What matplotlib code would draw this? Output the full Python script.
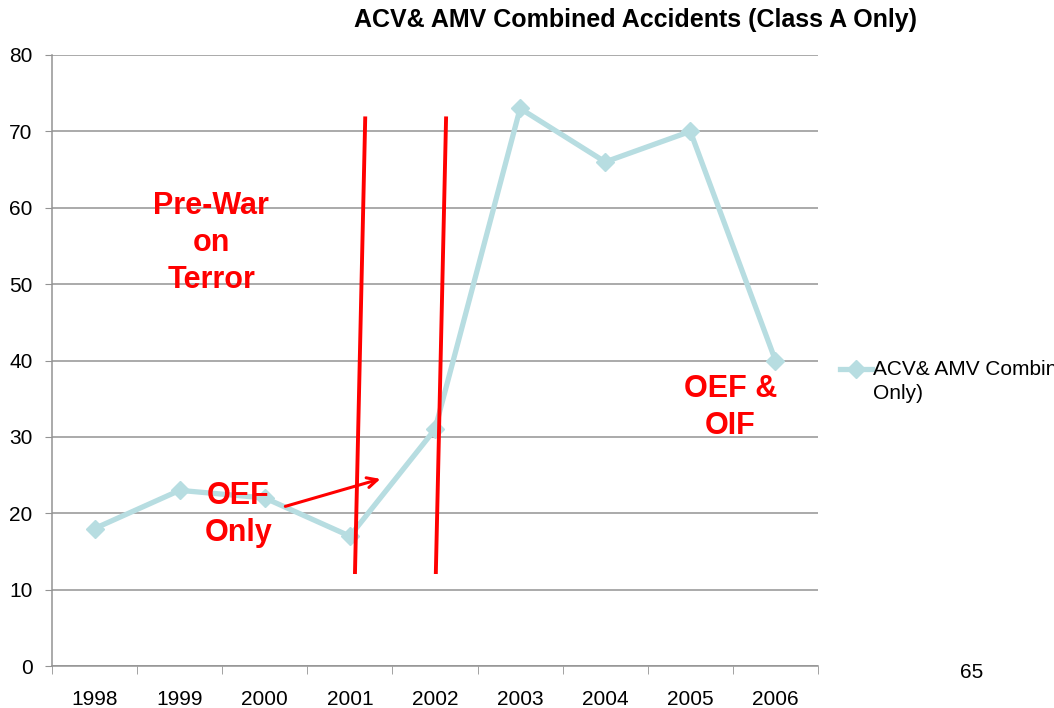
import numpy as np
import matplotlib.pyplot as plt
from matplotlib.legend_handler import HandlerLine2D

plt.rcParams['font.family'] = ['Liberation Sans', 'DejaVu Sans']

years = ['1998', '1999', '2000', '2001', '2002', '2003', '2004', '2005', '2006']
accidents = [18, 23, 22, 17, 31, 73, 66, 70, 40]
series_name = 'ACV& AMV Combined Accidents (Class A\nOnly)'
title = 'ACV& AMV Combined Accidents (Class A Only)'

line_color = '#b7dde1'
grid_color = '#939393'


class FirstLineHandler(HandlerLine2D):
    # legend key next to the first line of a two-line label, like Excel does
    def create_artists(self, legend, orig_handle, xdescent, ydescent,
                       width, height, fontsize, trans):
        artists = super().create_artists(legend, orig_handle, xdescent, ydescent,
                                         width, height, fontsize, trans)
        for a in artists:
            a.set_ydata(np.asarray(a.get_ydata()) + 9)
        return artists


fig = plt.figure(figsize=(10.54, 7.08), dpi=100)
ax = fig.add_axes([52 / 1054, 1 - 666 / 708, (818 - 52) / 1054, (666 - 55) / 708])

x = np.arange(len(years))
line, = ax.plot(x, accidents, color=line_color, lw=3.8, marker='D', ms=9,
                markeredgecolor=line_color, markerfacecolor=line_color,
                label=series_name, zorder=3)

ax.set_xlim(-0.5, len(years) - 0.5)
ax.set_ylim(0, 80)
ax.set_yticks(range(0, 81, 10))
ax.set_xticks(x)
ax.set_xticklabels(years)
ax.set_xticks(np.arange(-0.5, len(years), 1), minor=True)
ax.tick_params(axis='x', which='major', length=0, pad=17, labelsize=15)
ax.tick_params(axis='x', which='minor', length=6, color=grid_color, direction='out')
ax.tick_params(axis='y', length=5, color=grid_color, labelsize=15, pad=9)
ax.yaxis.grid(True, color=grid_color, lw=1.1)
ax.set_axisbelow(True)
for s in ['top', 'right']:
    ax.spines[s].set_visible(False)
for s in ['left', 'bottom']:
    ax.spines[s].set_color(grid_color)
    ax.spines[s].set_linewidth(1.1)

fig.text(635 / 1054, 1 - 20 / 708, title, ha='center', va='center',
         fontsize=18, fontweight='bold')

# era separators
ax.plot([3.06, 3.18], [12.3, 71.7], color='red', lw=2.8, zorder=4)
ax.plot([4.01, 4.13], [12.3, 71.7], color='red', lw=2.8, zorder=4)

ax.annotate('', xy=(3.39, 24.6), xytext=(2.21, 20.8),
            arrowprops=dict(arrowstyle='->', color='red', lw=2.2,
                            mutation_scale=18), zorder=4)

kw = dict(color='red', fontsize=22, fontweight='bold', ha='center', va='center',
          linespacing=1.3, zorder=5)
ax.text(1.37, 55.4, 'Pre-War\non\nTerror', **kw)
ax.text(1.69, 19.8, 'OEF\nOnly', **kw)
ax.text(7.47, 33.8, 'OEF &\nOIF', **kw)

leg = ax.legend(loc='upper left', bbox_to_anchor=(840 / 1054, 1 - 360 / 708),
                bbox_transform=fig.transFigure, frameon=False, fontsize=15,
                handlelength=1.55, handletextpad=0.05, borderaxespad=0, borderpad=0,
                handler_map={line: FirstLineHandler()})
leg.get_texts()[0].set_linespacing(1.35)

fig.text(972 / 1054, 1 - 672 / 708, '65', ha='center', va='center', fontsize=15)

fig.savefig('out.png', dpi=100)
